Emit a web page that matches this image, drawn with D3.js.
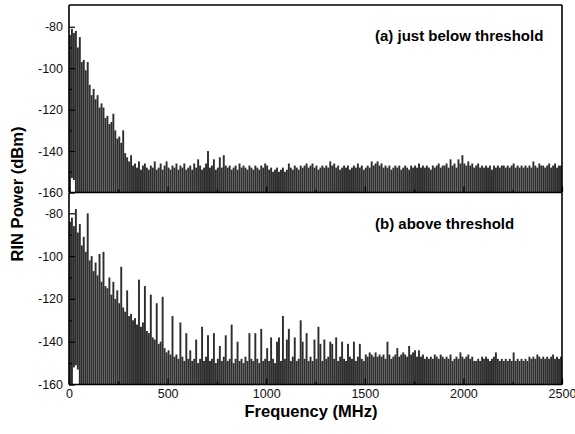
<!DOCTYPE html>
<html>
<head>
<meta charset="utf-8">
<script src="https://cdn.jsdelivr.net/npm/d3@7"></script>
<style>
  body { margin: 0; background: #fff; }
  svg { display: block; font-family: "Liberation Sans", Arial, Helvetica, sans-serif; }
  .tick text { font-size: 12.5px; fill: #111; }
  .domain { display: none; }
</style>
</head>
<body>
<script>
// spectrum bins every 10 MHz, 0..2490 MHz
var binWidth = 10;

// (a) just below threshold, RIN power in dBm
var rinBelow = [
  -84, -81, -83, -82, -90, -85, -97, -96, -101, -97,
  -108, -113, -110, -115, -113, -119, -117, -119, -124, -123,
  -127, -126, -122, -130, -134, -133, -136, -130, -141, -143,
  -145, -142, -147, -146, -148, -145, -149, -147, -146, -148,
  -149, -147, -148, -145, -149, -148, -146, -149, -147, -145,
  -148, -149, -147, -148, -146, -149, -147, -148, -146, -149,
  -148, -147, -149, -146, -148, -144, -147, -149, -148, -146,
  -140, -148, -147, -144, -149, -148, -143, -148, -142, -147,
  -148, -147, -149, -148, -147, -149, -146, -148, -147, -148,
  -149, -147, -148, -149, -147, -148, -149, -147, -148, -146,
  -147, -149, -148, -150, -149, -148, -150, -149, -148, -150,
  -149, -146, -148, -149, -147, -148, -149, -147, -148, -147,
  -146, -148, -147, -146, -148, -147, -149, -148, -147, -148,
  -147, -148, -145, -147, -146, -148, -147, -149, -148, -147,
  -148, -147, -149, -148, -147, -148, -146, -148, -147, -149,
  -148, -147, -148, -145, -147, -146, -145, -147, -146, -148,
  -147, -148, -147, -149, -148, -147, -148, -147, -149, -148,
  -147, -148, -149, -147, -148, -147, -148, -146, -148, -147,
  -148, -147, -148, -149, -147, -148, -147, -146, -148, -147,
  -147, -146, -148, -144, -147, -146, -148, -144, -146, -142,
  -146, -147, -145, -147, -146, -148, -147, -146, -148, -147,
  -148, -147, -148, -147, -149, -147, -148, -147, -148, -147,
  -147, -148, -147, -148, -147, -146, -148, -147, -148, -147,
  -148, -147, -148, -147, -148, -145, -147, -148, -146, -147,
  -147, -148, -147, -146, -148, -147, -146, -148, -147, -147
];
// lower end of the trace for the first bins (rest reach -160)
var floorBelow = [-160, -153, -154];

// (b) above threshold
var rinAbove = [
  -84, -82, -86, -78, -89, -85, -95, -91, -98, -80,
  -102, -100, -107, -103, -109, -99, -112, -98, -114, -115,
  -110, -118, -112, -120, -116, -122, -105, -124, -126, -116,
  -128, -127, -130, -129, -132, -111, -133, -131, -114, -135,
  -136, -118, -138, -139, -122, -141, -140, -119, -143, -145,
  -144, -146, -128, -147, -146, -148, -131, -147, -149, -136,
  -148, -144, -149, -148, -139, -150, -148, -133, -149, -147,
  -137, -149, -148, -136, -150, -148, -142, -149, -147, -137,
  -149, -148, -132, -150, -148, -140, -149, -148, -150, -147,
  -149, -136, -148, -149, -136, -148, -150, -134, -149, -148,
  -143, -149, -138, -148, -150, -140, -138, -149, -128, -148,
  -139, -134, -149, -147, -138, -149, -148, -130, -140, -148,
  -136, -149, -147, -149, -139, -148, -133, -141, -149, -139,
  -148, -147, -140, -141, -148, -138, -149, -147, -140, -148,
  -149, -141, -147, -148, -140, -149, -147, -141, -148, -149,
  -146, -147, -145, -146, -147, -145, -147, -146, -147, -146,
  -148, -140, -146, -148, -147, -146, -143, -147, -146, -145,
  -146, -147, -142, -146, -145, -144, -147, -144, -147, -146,
  -148, -147, -148, -147, -148, -146, -147, -148, -146, -147,
  -148, -147, -148, -146, -149, -148, -147, -148, -145, -147,
  -148, -147, -146, -148, -147, -149, -149, -148, -149, -147,
  -148, -147, -148, -149, -148, -147, -145, -148, -149, -148,
  -149, -148, -149, -148, -149, -145, -149, -148, -149, -148,
  -149, -148, -149, -147, -148, -147, -148, -146, -147, -148,
  -147, -148, -147, -148, -147, -146, -148, -147, -148, -147
];
var floorAbove = [-160, -160, -152, -151, -153];

var yMajor = [-160, -140, -120, -100, -80];
var yMinor = [-150, -130, -110, -90];
var xMajor = [0, 500, 1000, 1500, 2000, 2500];
var xMinor = [250, 750, 1250, 1750, 2250];

var width = 575, height = 434;

var svg = d3.select("body").append("svg")
    .attr("width", width)
    .attr("height", height);

var x = d3.scaleLinear().domain([0, 2500]).range([69, 562]);

var panels = [
  {values: rinBelow, floor: floorBelow, y: d3.scaleLinear().domain([-160, -69.5]).range([192.5, 5]),
   label: "(a) just below threshold", labelY: 41, top: true},
  {values: rinAbove, floor: floorAbove, y: d3.scaleLinear().domain([-160, -70.5]).range([384.5, 193]),
   label: "(b) above threshold", labelY: 229, top: false}
];

// plain hyphen labels like the original plot
var fmt = function(d){ return String(d); };

panels.forEach(function(p, pi){
    var g = svg.append("g");
    var bw = x(binWidth) - x(0);

    // spectrum sticks
    g.selectAll("rect.bar")
        .data(p.values)
        .enter().append("rect")
        .attr("class", "bar")
        .attr("x", function(d, i){ return x(i * binWidth); })
        .attr("width", bw * 0.97)
        .attr("y", function(d){ return p.y(d); })
        .attr("height", function(d, i){
            var lo = p.floor[i] !== undefined ? p.floor[i] : -160;
            return p.y(lo) - p.y(d);
        })
        .attr("fill", "#2e2e2e");

    // left axis, ticks pointing inward
    var r = p.y.range();
    g.append("g")
        .attr("transform", "translate(" + x(0) + ",0)")
        .call(d3.axisLeft(p.y).tickValues(yMajor).tickSize(-6).tickPadding(6).tickFormat(fmt))
        .call(function(s){ s.selectAll("line").attr("stroke", "#000").attr("stroke-width", 1.2); });
    g.append("g")
        .attr("transform", "translate(" + x(0) + ",0)")
        .call(d3.axisLeft(p.y).tickValues(yMinor).tickSize(-3).tickFormat(""))
        .call(function(s){ s.selectAll("line").attr("stroke", "#000").attr("stroke-width", 1.2); });

    // bottom axis (labels only on lower panel)
    var xa = d3.axisBottom(x).tickValues(xMajor).tickSize(-6).tickPadding(5).tickFormat(fmt);
    if (pi === 0) xa.tickFormat("");
    g.append("g")
        .attr("transform", "translate(0," + r[0] + ")")
        .call(xa)
        .call(function(s){ s.selectAll("line").attr("stroke", "#000").attr("stroke-width", 1.2); });
    g.append("g")
        .attr("transform", "translate(0," + r[0] + ")")
        .call(d3.axisBottom(x).tickValues(xMinor).tickSize(-3).tickFormat(""))
        .call(function(s){ s.selectAll("line").attr("stroke", "#000").attr("stroke-width", 1.2); });

    // frame
    var frame = g.append("g").attr("stroke", "#000").attr("stroke-width", 1.6).attr("fill", "none");
    frame.append("line").attr("x1", x(0)).attr("x2", x(0)).attr("y1", r[0]).attr("y2", r[1]);
    frame.append("line").attr("x1", x(2500)).attr("x2", x(2500)).attr("y1", r[0]).attr("y2", r[1]);
    frame.append("line").attr("x1", x(0)).attr("x2", x(2500)).attr("y1", r[0]).attr("y2", r[0]);
    if (p.top) frame.append("line").attr("x1", x(0)).attr("x2", x(2500)).attr("y1", r[1]).attr("y2", r[1]);

    g.append("text")
        .attr("x", 375)
        .attr("y", p.labelY)
        .attr("font-size", 15)
        .attr("font-weight", "bold")
        .text(p.label);
});

svg.append("text")
    .attr("transform", "translate(23,194) rotate(-90)")
    .attr("text-anchor", "middle")
    .attr("font-size", 16.5)
    .attr("font-weight", "bold")
    .text("RIN Power (dBm)");

svg.append("text")
    .attr("x", 311)
    .attr("y", 417)
    .attr("text-anchor", "middle")
    .attr("font-size", 16.5)
    .attr("font-weight", "bold")
    .text("Frequency (MHz)");
</script>
</body>
</html>
